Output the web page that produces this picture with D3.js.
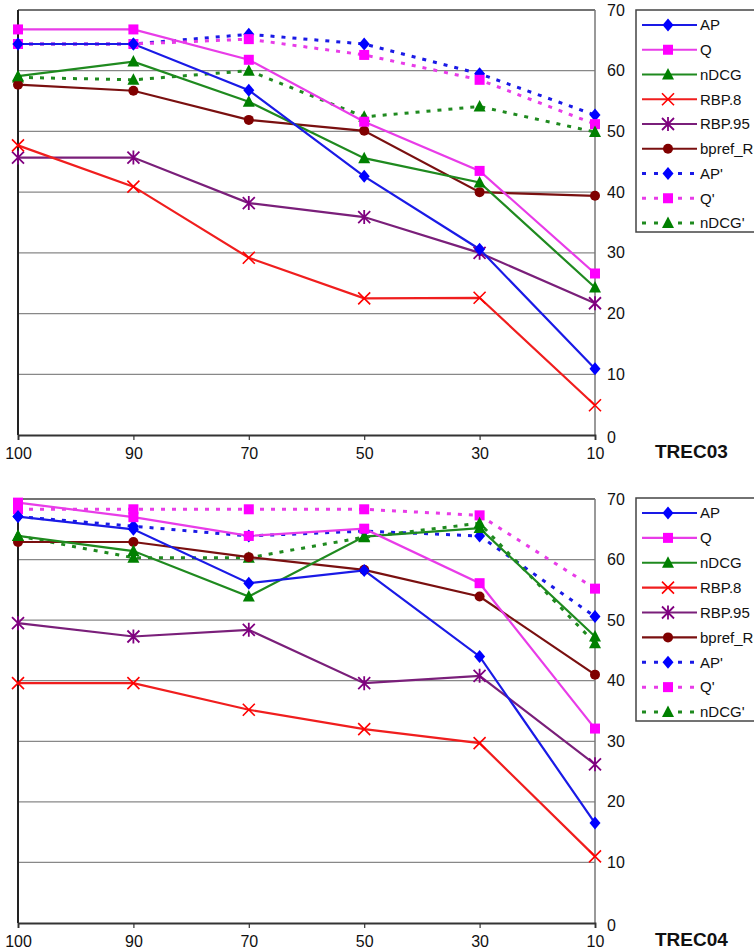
<!DOCTYPE html>
<html>
<head>
<meta charset="utf-8">
<script src="https://cdn.jsdelivr.net/npm/d3@7"></script>
<style>
  body { margin: 0; background: #fff; }
  svg { display: block; font-family: "Liberation Sans", Arial, sans-serif; }
</style>
</head>
<body>
<div id="chart"></div>
<script>
// sample sizes (x categories) and y ticks
const sizes = ["100", "90", "70", "50", "30", "10"];
const yTicks = [0, 10, 20, 30, 40, 50, 60, 70];

const seriesNames = ["AP", "Q", "nDCG", "RBP.8", "RBP.95", "bpref_R", "AP'", "Q'", "nDCG'"];
const seriesColors = ["#0000ff", "#ff00ff", "#008000", "#ff0000", "#800080", "#800000", "#0000ff", "#ff00ff", "#008000"];
const seriesLineColors = ["#1a1ae6", "#e83ce8", "#1f8a1f", "#f01e1e", "#7a1f7a", "#7a1010", "#1a1ae6", "#e83ce8", "#1f8a1f"];
const seriesMarkers = ["diamond", "square", "triangle", "x", "asterisk", "circle", "diamond", "square", "triangle"];
const seriesDashed = [false, false, false, false, false, false, true, true, true];

// TREC03
const trec03_AP     = [64.4, 64.4, 56.8, 42.6, 30.6, 10.9];
const trec03_Q      = [66.8, 66.8, 61.8, 51.6, 43.5, 26.6];
const trec03_nDCG   = [59.1, 61.5, 54.9, 45.6, 41.6, 24.3];
const trec03_RBP8   = [47.7, 40.9, 29.2, 22.5, 22.6, 4.9];
const trec03_RBP95  = [45.7, 45.7, 38.2, 35.9, 30.0, 21.7];
const trec03_bpref  = [57.7, 56.7, 51.9, 50.1, 40.0, 39.4];
const trec03_APp    = [64.4, 64.4, 66.0, 64.4, 59.5, 52.7];
const trec03_Qp     = [64.4, 64.4, 65.2, 62.6, 58.5, 51.2];
const trec03_nDCGp  = [58.9, 58.5, 60.0, 52.4, 54.1, 49.9];

// TREC04
const trec04_AP     = [67.1, 65.0, 56.1, 58.2, 44.0, 16.5];
const trec04_Q      = [69.4, 67.0, 63.9, 65.1, 56.1, 32.1];
const trec04_nDCG   = [63.9, 61.4, 53.9, 63.8, 65.2, 47.3];
const trec04_RBP8   = [39.6, 39.6, 35.2, 32.0, 29.7, 11.0];
const trec04_RBP95  = [49.5, 47.3, 48.4, 39.6, 40.8, 26.2];
const trec04_bpref  = [62.9, 62.9, 60.4, 58.3, 53.9, 41.0];
const trec04_APp    = [67.1, 65.5, 63.9, 64.7, 63.9, 50.6];
const trec04_Qp     = [68.3, 68.3, 68.3, 68.3, 67.3, 55.2];
const trec04_nDCGp  = [63.9, 60.3, 60.3, 63.7, 66.0, 46.2];

const panels = [
  {title: "TREC03", top: 10, bottom: 435, legendTop: 10, legendBottom: 232,
   values: [trec03_AP, trec03_Q, trec03_nDCG, trec03_RBP8, trec03_RBP95, trec03_bpref, trec03_APp, trec03_Qp, trec03_nDCGp]},
  {title: "TREC04", top: 499, bottom: 923, legendTop: 498, legendBottom: 721,
   values: [trec04_AP, trec04_Q, trec04_nDCG, trec04_RBP8, trec04_RBP95, trec04_bpref, trec04_APp, trec04_Qp, trec04_nDCGp]}
];

const W = 754, H = 950;
const plotLeft = 18, plotRight = 595;

const svg = d3.select("#chart").append("svg")
  .attr("width", W).attr("height", H);

function marker(g, type, cx, cy, color) {
  const s = 5.5;
  if (type === "diamond") {
    g.append("path").attr("d", `M${cx},${cy - s - 1}L${cx + s},${cy}L${cx},${cy + s + 1}L${cx - s},${cy}Z`).attr("fill", color);
  } else if (type === "square") {
    g.append("rect").attr("x", cx - 5).attr("y", cy - 5).attr("width", 10).attr("height", 10).attr("fill", color);
  } else if (type === "triangle") {
    g.append("path").attr("d", `M${cx},${cy - 6.5}L${cx + 6},${cy + 5}L${cx - 6},${cy + 5}Z`).attr("fill", color);
  } else if (type === "circle") {
    g.append("circle").attr("cx", cx).attr("cy", cy).attr("r", 5).attr("fill", color);
  } else if (type === "x") {
    g.append("path").attr("d", `M${cx - 6},${cy - 6}L${cx + 6},${cy + 6}M${cx - 6},${cy + 6}L${cx + 6},${cy - 6}`)
      .attr("stroke", color).attr("stroke-width", 1.6);
  } else if (type === "asterisk") {
    g.append("path").attr("d", `M${cx - 6},${cy - 6}L${cx + 6},${cy + 6}M${cx - 6},${cy + 6}L${cx + 6},${cy - 6}M${cx},${cy - 7}L${cx},${cy + 7}`)
      .attr("stroke", color).attr("stroke-width", 1.8);
  }
}

function drawPanel(p) {
  const x = d3.scalePoint().domain(sizes).range([plotLeft, plotRight]);
  const y = d3.scaleLinear().domain([0, 70]).range([p.bottom, p.top]);

  const g = svg.append("g");

  // horizontal grid lines
  g.append("g").selectAll("line")
    .data(yTicks.filter(d => d > 0))
    .join("line")
    .attr("x1", plotLeft).attr("x2", plotRight)
    .attr("y1", d => y(d)).attr("y2", d => y(d))
    .attr("stroke", d => d === 70 ? "#444" : "#888")
    .attr("stroke-width", d => d === 70 ? 1.5 : 1.3);

  // right border
  g.append("line").attr("x1", plotRight).attr("x2", plotRight)
    .attr("y1", p.top).attr("y2", p.bottom).attr("stroke", "#777").attr("stroke-width", 1.5);

  // left axis
  g.append("line").attr("x1", plotLeft).attr("x2", plotLeft)
    .attr("y1", p.top).attr("y2", p.bottom).attr("stroke", "#222").attr("stroke-width", 2);

  // bottom axis with ticks
  const xAxis = g.append("g")
    .attr("transform", `translate(0,${p.bottom})`)
    .call(d3.axisBottom(x).tickSize(5).tickPadding(8));
  xAxis.select(".domain").attr("stroke", "#333").attr("stroke-width", 1.8);
  xAxis.selectAll(".tick line").attr("stroke", "#333").attr("stroke-width", 1.2);
  xAxis.selectAll(".tick text")
    .attr("font-size", 16).attr("fill", "#111")
    .attr("font-family", "'Liberation Sans', Arial, sans-serif");

  // right tick labels
  g.append("g").selectAll("text")
    .data(yTicks)
    .join("text")
    .attr("x", plotRight + 12)
    .attr("y", d => y(d) + (d === 0 ? 2 : 0))
    .attr("dy", "0.35em")
    .attr("font-size", 16).attr("fill", "#111")
    .text(d => d);

  // title
  g.append("text").attr("x", 655).attr("y", p.bottom + 23)
    .attr("font-size", 19).attr("font-weight", "bold").attr("fill", "#111")
    .text(p.title);

  // lines: draw dashed first, then solid on top
  const order = [6, 7, 8, 5, 4, 3, 2, 0, 1];
  const line = d3.line().x((d, i) => x(sizes[i])).y(d => y(d));
  order.forEach(si => {
    g.append("path")
      .attr("d", line(p.values[si]))
      .attr("fill", "none")
      .attr("stroke", seriesLineColors[si])
      .attr("stroke-width", seriesDashed[si] ? 3 : 2.2)
      .attr("stroke-dasharray", seriesDashed[si] ? "4,7" : null);
  });
  order.forEach(si => {
    p.values[si].forEach((v, i) => marker(g, seriesMarkers[si], x(sizes[i]), y(v), seriesColors[si]));
  });

  // legend
  const lg = svg.append("g");
  lg.append("rect").attr("x", 636).attr("y", p.legendTop)
    .attr("width", 140).attr("height", p.legendBottom - p.legendTop)
    .attr("fill", "#fff").attr("stroke", "#444").attr("stroke-width", 1.5);
  const step = (p.legendBottom - p.legendTop - 24) / 8;
  seriesNames.forEach((name, i) => {
    const ly = p.legendTop + 15 + i * step;
    lg.append("line").attr("x1", 642).attr("x2", 697).attr("y1", ly).attr("y2", ly)
      .attr("stroke", seriesLineColors[i])
      .attr("stroke-width", seriesDashed[i] ? 3 : 2.2)
      .attr("stroke-dasharray", seriesDashed[i] ? "4,8" : null);
    marker(lg, seriesMarkers[i], 668, ly, seriesColors[i]);
    lg.append("text").attr("x", 700).attr("y", ly).attr("dy", "0.35em")
      .attr("font-size", 15).attr("fill", "#111").text(name);
  });
}

panels.forEach(drawPanel);
</script>
</body>
</html>
